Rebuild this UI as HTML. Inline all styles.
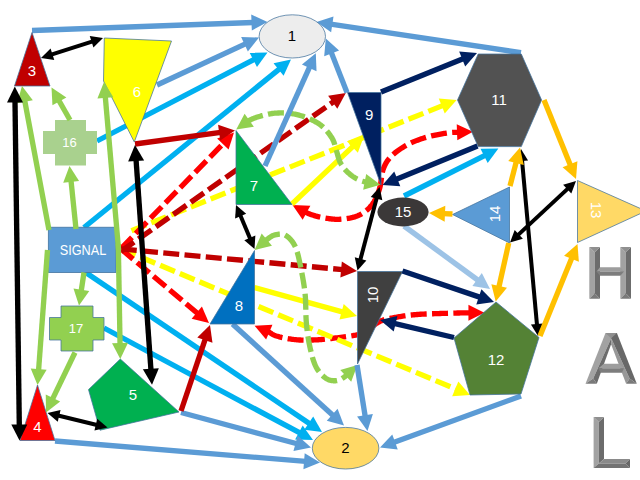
<!DOCTYPE html>
<html><head><meta charset="utf-8"><title>Signal diagram</title>
<style>html,body{margin:0;padding:0;background:#fff;overflow:hidden}svg{display:block;font-family:"Liberation Sans",sans-serif}</style>
</head><body>
<svg width="640" height="480" viewBox="0 0 640 480">
<rect width="640" height="480" fill="#fff"/>
<polyline points="305.11,212.02 305.90,212.41 306.93,212.88 307.90,213.30 308.84,213.68 309.77,214.04 310.69,214.38 311.61,214.71 312.52,215.02 313.43,215.31 314.34,215.59 315.24,215.86 316.15,216.11 317.07,216.35 317.98,216.58 318.91,216.80 319.84,217.01 320.78,217.21 321.73,217.41 322.70,217.60 323.68,217.79 324.66,217.97 325.66,218.14 326.66,218.31 327.68,218.47 328.69,218.62 329.72,218.76 330.74,218.89 331.77,219.00 332.81,219.10 333.84,219.18 334.88,219.25 335.91,219.29 336.94,219.32 337.97,219.32 339.00,219.30 340.03,219.26 341.09,219.20 342.15,219.12 343.23,219.03 344.31,218.91 345.39,218.78 346.47,218.63 347.55,218.47 348.62,218.29 349.67,218.09 350.71,217.88 351.72,217.65 352.71,217.41 353.68,217.15 354.61,216.88 355.50,216.60 356.36,216.30 357.20,215.98 358.02,215.65 358.81,215.30 359.58,214.94 360.33,214.56 361.07,214.17 361.78,213.76 362.48,213.33 363.16,212.90 363.83,212.44 364.49,211.98 365.13,211.50 365.76,211.01 366.39,210.51 367.00,210.00 367.60,209.47 368.19,208.93 368.76,208.38 369.32,207.81 369.86,207.23 370.39,206.63 370.90,206.02 371.41,205.40 371.90,204.77 372.37,204.12 372.84,203.46 373.29,202.79 373.74,202.11 374.17,201.42 374.59,200.71 375.00,200.00 375.40,199.28 375.78,198.55 376.15,197.82 376.50,197.08 376.84,196.33 377.17,195.56 377.49,194.79 377.79,194.00 378.09,193.20 378.38,192.37 378.66,191.53 378.94,190.67 379.21,189.79 379.48,188.88 379.74,187.96 380.00,187.00 380.24,186.00 380.46,184.96 380.65,183.86 380.83,182.73 380.99,181.58 381.15,180.40 381.30,179.20 381.45,178.00 381.61,176.80 381.78,175.60 381.96,174.42 382.17,173.27 382.40,172.14 382.66,171.04 382.96,170.00 383.30,169.00 383.66,168.05 384.03,167.13 384.42,166.23 384.81,165.37 385.22,164.52 385.65,163.70 386.10,162.89 386.58,162.10 387.07,161.32 387.60,160.55 388.16,159.79 388.75,159.03 389.38,158.28 390.04,157.52 390.75,156.76 391.50,156.00 392.30,155.23 393.14,154.45 394.04,153.68 394.97,152.91 395.94,152.13 396.94,151.37 397.98,150.61 399.04,149.86 400.12,149.12 401.22,148.39 402.34,147.68 403.46,146.98 404.60,146.30 405.73,145.64 406.87,145.01 408.00,144.40 409.14,143.81 410.30,143.24 411.48,142.69 412.68,142.15 413.89,141.63 415.12,141.13 416.36,140.64 417.60,140.17 418.85,139.71 420.11,139.27 421.36,138.84 422.62,138.43 423.87,138.02 425.12,137.64 426.37,137.26 427.60,136.90 428.85,136.55 430.13,136.22 431.43,135.90 432.75,135.60 434.08,135.31 435.42,135.03 436.75,134.77 438.07,134.53 439.37,134.29 440.64,134.07 441.88,133.86 443.08,133.67 444.22,133.48 445.32,133.31 446.34,133.15 447.30,133.00 448.17,132.87 448.95,132.76 449.65,132.67 450.28,132.60 450.86,132.54 451.39,132.50 451.90,132.47 452.38,132.44 452.86,132.43 453.34,132.41 453.84,132.40 454.37,132.39 454.93,132.38 455.55,132.36 456.24,132.34 457.00,132.30 457.86,132.26 458.62,132.22" fill="none" stroke="#FF0000" stroke-width="5.33" stroke-linejoin="round" stroke-dasharray="16 5.33" stroke-dashoffset="0"/>
<polygon points="292.50,205.10 310.36,205.79 302.67,219.80" fill="#FF0000" />
<polygon points="473.00,131.70 457.31,140.27 456.73,124.29" fill="#FF0000" />
<polyline points="267.81,331.40 268.27,331.65 268.84,331.98 269.38,332.30 269.89,332.63 270.39,332.96 270.89,333.28 271.39,333.61 271.90,333.93 272.43,334.24 272.99,334.55 273.58,334.86 274.22,335.15 274.92,335.44 275.67,335.73 276.50,336.00 277.40,336.27 278.36,336.54 279.37,336.81 280.44,337.07 281.54,337.34 282.68,337.59 283.85,337.84 285.05,338.09 286.26,338.32 287.49,338.55 288.71,338.76 289.94,338.96 291.16,339.14 292.36,339.31 293.54,339.47 294.70,339.60 295.84,339.72 296.98,339.82 298.13,339.90 299.27,339.97 300.42,340.03 301.57,340.07 302.72,340.10 303.86,340.12 305.01,340.13 306.16,340.13 307.30,340.12 308.44,340.11 309.59,340.09 310.73,340.06 311.86,340.03 313.00,340.00 314.12,339.96 315.21,339.92 316.28,339.87 317.34,339.81 318.39,339.75 319.43,339.67 320.48,339.59 321.54,339.51 322.61,339.41 323.70,339.31 324.82,339.20 325.97,339.07 327.15,338.94 328.38,338.81 329.66,338.66 331.00,338.50 332.42,338.33 333.94,338.16 335.55,337.97 337.22,337.78 338.95,337.58 340.71,337.37 342.49,337.15 344.27,336.92 346.04,336.68 347.78,336.44 349.47,336.19 351.11,335.92 352.66,335.66 354.12,335.38 355.48,335.09 356.70,334.80 357.80,334.50 358.79,334.19 359.68,333.88 360.49,333.55 361.23,333.22 361.90,332.88 362.53,332.54 363.12,332.18 363.69,331.82 364.25,331.44 364.80,331.06 365.37,330.67 365.96,330.27 366.59,329.85 367.27,329.43 368.00,329.00 368.77,328.54 369.56,328.06 370.35,327.54 371.15,327.01 371.96,326.46 372.78,325.89 373.60,325.33 374.44,324.76 375.28,324.19 376.12,323.64 376.97,323.10 377.83,322.58 378.69,322.08 379.56,321.62 380.43,321.19 381.30,320.80 382.17,320.45 383.04,320.13 383.90,319.84 384.76,319.58 385.63,319.33 386.49,319.11 387.37,318.90 388.26,318.71 389.15,318.52 390.07,318.35 391.00,318.18 391.95,318.01 392.92,317.84 393.92,317.67 394.94,317.49 396.00,317.30 397.07,317.11 398.16,316.91 399.25,316.72 400.36,316.53 401.48,316.35 402.62,316.16 403.78,315.98 404.96,315.81 406.17,315.63 407.41,315.47 408.68,315.31 409.99,315.15 411.33,315.00 412.71,314.86 414.13,314.73 415.60,314.60 417.13,314.48 418.72,314.37 420.38,314.27 422.08,314.18 423.83,314.09 425.62,314.01 427.43,313.94 429.26,313.87 431.11,313.80 432.96,313.74 434.80,313.68 436.64,313.62 438.45,313.57 440.24,313.51 441.99,313.46 443.70,313.40 445.40,313.34 447.11,313.29 448.84,313.24 450.57,313.19 452.30,313.15 454.02,313.10 455.73,313.06 457.42,313.02 459.09,312.99 460.72,312.95 462.32,312.92 463.87,312.89 465.37,312.87 466.81,312.84 468.19,312.82 469.50,312.80 470.01,312.79" fill="none" stroke="#FF0000" stroke-width="5.33" stroke-linejoin="round" stroke-dasharray="16 5.33" stroke-dashoffset="0"/>
<polygon points="254.60,325.70 272.45,324.70 266.11,339.38" fill="#FF0000" />
<polygon points="484.40,312.80 468.41,320.79 468.41,304.80" fill="#FF0000" />
<line x1="131.50" y1="230.80" x2="443.25" y2="105.37" stroke="#FFFF00" stroke-width="5.33" stroke-dasharray="16 5.33" stroke-dashoffset="0"/>
<polygon points="456.60,100.00 444.75,113.39 438.78,98.55" fill="#FFFF00" />
<line x1="120.80" y1="248.80" x2="456.73" y2="389.44" stroke="#FFFF00" stroke-width="5.33" stroke-dasharray="16 5.33" stroke-dashoffset="0"/>
<polygon points="470.00,395.00 452.16,396.20 458.34,381.45" fill="#FFFF00" />
<line x1="120.80" y1="248.80" x2="223.96" y2="142.81" stroke="#FF0000" stroke-width="5.33" stroke-dasharray="16 5.33" stroke-dashoffset="0"/>
<polygon points="234.00,132.50 228.58,149.53 217.12,138.38" fill="#FF0000" />
<line x1="120.80" y1="248.80" x2="197.99" y2="313.74" stroke="#FF0000" stroke-width="5.33" stroke-dasharray="16 5.33" stroke-dashoffset="0"/>
<polygon points="209.00,323.00 191.62,318.82 201.91,306.59" fill="#FF0000" />
<line x1="121.00" y1="251.30" x2="334.03" y2="101.38" stroke="#C00000" stroke-width="5.33" stroke-dasharray="16 5.33" stroke-dashoffset="0"/>
<polygon points="345.80,93.10 337.32,108.84 328.12,95.76" fill="#C00000" />
<line x1="120.80" y1="248.80" x2="342.67" y2="269.65" stroke="#C00000" stroke-width="5.33" stroke-dasharray="16 5.33" stroke-dashoffset="0"/>
<polygon points="357.00,271.00 340.33,277.46 341.83,261.54" fill="#C00000" />
<line x1="292.00" y1="204.00" x2="353.54" y2="145.88" stroke="#FFFF00" stroke-width="5.33"/>
<polygon points="364.00,136.00 357.86,152.79 346.89,141.17" fill="#FFFF00" />
<line x1="254.50" y1="287.50" x2="343.13" y2="312.14" stroke="#FFFF00" stroke-width="5.33"/>
<polygon points="357.00,316.00 339.45,319.42 343.74,304.01" fill="#FFFF00" />
<polyline points="247.92,121.17 248.13,121.04 249.08,120.49 250.00,120.00 250.90,119.56 251.81,119.14 252.74,118.74 253.67,118.36 254.60,118.00 255.55,117.66 256.49,117.34 257.44,117.03 258.38,116.74 259.32,116.46 260.26,116.19 261.19,115.93 262.11,115.69 263.02,115.45 263.92,115.22 264.80,115.00 265.66,114.79 266.51,114.59 267.33,114.40 268.15,114.22 268.95,114.05 269.74,113.90 270.54,113.76 271.33,113.62 272.12,113.51 272.92,113.40 273.72,113.30 274.54,113.22 275.37,113.15 276.23,113.09 277.10,113.04 278.00,113.00 278.92,112.97 279.87,112.95 280.83,112.94 281.80,112.95 282.79,112.96 283.79,112.98 284.81,113.01 285.82,113.06 286.85,113.12 287.88,113.20 288.91,113.29 289.93,113.40 290.96,113.52 291.98,113.66 292.99,113.82 294.00,114.00 295.01,114.20 296.02,114.41 297.04,114.65 298.07,114.90 299.10,115.17 300.13,115.45 301.16,115.75 302.19,116.06 303.21,116.39 304.22,116.73 305.22,117.08 306.21,117.45 307.19,117.82 308.14,118.20 309.08,118.60 310.00,119.00 310.90,119.41 311.79,119.83 312.67,120.26 313.54,120.70 314.40,121.14 315.25,121.60 316.08,122.08 316.91,122.56 317.72,123.06 318.51,123.58 319.30,124.10 320.07,124.65 320.82,125.21 321.56,125.79 322.29,126.38 323.00,127.00 323.70,127.64 324.39,128.31 325.08,129.00 325.75,129.72 326.41,130.45 327.06,131.21 327.69,131.97 328.31,132.75 328.91,133.53 329.49,134.32 330.05,135.12 330.59,135.91 331.11,136.69 331.60,137.47 332.06,138.24 332.50,139.00 332.90,139.75 333.26,140.50 333.59,141.25 333.89,142.00 334.16,142.75 334.40,143.50 334.63,144.25 334.84,145.00 335.05,145.75 335.24,146.50 335.43,147.25 335.63,148.00 335.83,148.75 336.04,149.50 336.26,150.25 336.50,151.00 336.74,151.75 336.97,152.51 337.19,153.28 337.41,154.05 337.62,154.82 337.82,155.59 338.03,156.36 338.25,157.12 338.47,157.89 338.71,158.65 338.95,159.40 339.22,160.14 339.50,160.87 339.81,161.60 340.14,162.30 340.50,163.00 340.88,163.68 341.28,164.36 341.70,165.03 342.12,165.70 342.57,166.36 343.03,167.01 343.51,167.65 344.00,168.28 344.51,168.91 345.03,169.52 345.57,170.13 346.12,170.72 346.70,171.31 347.28,171.88 347.88,172.45 348.50,173.00 349.13,173.54 349.75,174.08 350.39,174.61 351.03,175.13 351.69,175.64 352.36,176.14 353.05,176.63 353.76,177.11 354.49,177.57 355.25,178.03 356.03,178.48 356.85,178.91 357.70,179.33 358.59,179.73 359.53,180.12 360.50,180.50 361.56,180.86 362.75,181.22 364.03,181.57 365.39,181.90 366.27,182.10" fill="none" stroke="#92D050" stroke-width="5.33" stroke-linejoin="round" stroke-dasharray="16 5.33" stroke-dashoffset="0"/>
<polygon points="236.20,129.50 244.60,113.72 253.86,126.75" fill="#92D050" />
<polygon points="380.40,184.80 363.19,189.65 366.19,173.95" fill="#92D050" />
<polyline points="265.60,240.62 266.52,239.88 267.43,239.16 268.26,238.53 269.00,238.00 269.66,237.55 270.26,237.14 270.81,236.78 271.32,236.46 271.80,236.17 272.25,235.92 272.67,235.70 273.08,235.51 273.48,235.35 273.87,235.20 274.27,235.07 274.67,234.96 275.09,234.86 275.53,234.77 276.00,234.68 276.50,234.60 277.02,234.51 277.56,234.43 278.11,234.34 278.66,234.26 279.23,234.20 279.80,234.14 280.37,234.11 280.95,234.10 281.53,234.12 282.12,234.16 282.70,234.24 283.29,234.36 283.87,234.52 284.45,234.73 285.03,234.99 285.60,235.30 286.18,235.66 286.76,236.07 287.36,236.51 287.96,236.99 288.57,237.52 289.18,238.08 289.79,238.67 290.39,239.31 290.98,239.97 291.57,240.67 292.14,241.40 292.69,242.16 293.23,242.96 293.74,243.78 294.24,244.63 294.70,245.50 295.14,246.40 295.55,247.32 295.93,248.26 296.30,249.23 296.65,250.22 296.98,251.25 297.30,252.31 297.61,253.41 297.91,254.54 298.20,255.71 298.49,256.92 298.79,258.18 299.08,259.49 299.38,260.84 299.68,262.24 300.00,263.70 300.33,265.23 300.66,266.83 301.01,268.51 301.36,270.25 301.71,272.05 302.06,273.89 302.41,275.77 302.75,277.67 303.08,279.60 303.41,281.55 303.72,283.49 304.02,285.44 304.30,287.37 304.55,289.28 304.79,291.16 305.00,293.00 305.18,294.83 305.33,296.69 305.45,298.56 305.55,300.44 305.62,302.32 305.68,304.20 305.73,306.09 305.77,307.96 305.81,309.81 305.85,311.65 305.89,313.46 305.94,315.25 306.00,317.00 306.08,318.71 306.18,320.38 306.30,322.00 306.44,323.57 306.58,325.10 306.72,326.59 306.87,328.04 307.03,329.46 307.20,330.85 307.37,332.22 307.54,333.56 307.73,334.89 307.92,336.20 308.13,337.51 308.34,338.80 308.56,340.10 308.80,341.39 309.04,342.69 309.30,344.00 309.57,345.32 309.85,346.66 310.14,348.00 310.44,349.35 310.75,350.70 311.07,352.04 311.39,353.37 311.73,354.69 312.08,355.98 312.43,357.25 312.79,358.48 313.16,359.68 313.54,360.84 313.92,361.94 314.31,363.00 314.70,364.00 315.10,364.94 315.51,365.84 315.93,366.70 316.35,367.51 316.78,368.29 317.22,369.03 317.67,369.74 318.12,370.41 318.59,371.06 319.05,371.68 319.53,372.28 320.01,372.85 320.50,373.41 320.99,373.95 321.49,374.48 322.00,375.00 322.51,375.50 323.03,375.99 323.55,376.46 324.08,376.91 324.62,377.34 325.16,377.75 325.71,378.14 326.27,378.50 326.83,378.84 327.40,379.15 327.98,379.43 328.57,379.69 329.16,379.91 329.77,380.11 330.38,380.27 331.00,380.40 331.62,380.51 332.25,380.60 332.88,380.68 333.51,380.73 334.14,380.77 334.79,380.77 335.44,380.75 336.10,380.69 336.78,380.59 337.46,380.46 338.17,380.28 338.89,380.05 339.64,379.77 340.40,379.44 341.19,379.05 342.00,378.60 342.87,378.05 343.82,377.37 344.84,376.59 345.90,375.71 346.91,374.85" fill="none" stroke="#92D050" stroke-width="5.33" stroke-linejoin="round" stroke-dasharray="16 5.33" stroke-dashoffset="0"/>
<polygon points="254.60,249.90 261.66,233.48 271.98,245.69" fill="#92D050" />
<polygon points="357.40,365.00 351.21,381.77 340.27,370.11" fill="#92D050" />
<line x1="97.00" y1="141.00" x2="254.73" y2="59.13" stroke="#00B0F0" stroke-width="5.33"/>
<polygon points="267.50,52.50 256.99,66.96 249.62,52.77" fill="#00B0F0" />
<line x1="84.00" y1="227.50" x2="279.83" y2="68.57" stroke="#00B0F0" stroke-width="5.33"/>
<polygon points="291.00,59.50 283.62,75.78 273.55,63.37" fill="#00B0F0" />
<line x1="85.00" y1="272.00" x2="310.07" y2="423.95" stroke="#00B0F0" stroke-width="5.33"/>
<polygon points="322.00,432.00 304.27,429.68 313.22,416.43" fill="#00B0F0" />
<line x1="104.00" y1="328.00" x2="300.32" y2="433.20" stroke="#00B0F0" stroke-width="5.33"/>
<polygon points="313.00,440.00 295.13,439.49 302.68,425.40" fill="#00B0F0" />
<line x1="404.00" y1="196.00" x2="485.54" y2="155.06" stroke="#00B0F0" stroke-width="5.33"/>
<polygon points="498.40,148.60 487.70,162.92 480.52,148.63" fill="#00B0F0" />
<line x1="404.00" y1="226.00" x2="478.39" y2="280.50" stroke="#9DC3E6" stroke-width="5.33"/>
<polygon points="490.00,289.00 472.38,286.00 481.83,273.10" fill="#9DC3E6" />
<line x1="32.00" y1="30.50" x2="253.12" y2="22.52" stroke="#5B9BD5" stroke-width="5.33"/>
<polygon points="267.50,22.00 251.81,30.57 251.23,14.59" fill="#5B9BD5" />
<line x1="157.00" y1="85.00" x2="245.95" y2="43.58" stroke="#5B9BD5" stroke-width="5.33"/>
<polygon points="259.00,37.50 247.88,51.50 241.13,37.00" fill="#5B9BD5" />
<line x1="265.00" y1="166.00" x2="309.89" y2="66.42" stroke="#5B9BD5" stroke-width="5.33"/>
<polygon points="315.80,53.30 316.52,71.16 301.94,64.59" fill="#5B9BD5" />
<line x1="347.00" y1="92.50" x2="331.06" y2="51.90" stroke="#5B9BD5" stroke-width="5.33"/>
<polygon points="325.80,38.50 339.09,50.46 324.20,56.31" fill="#5B9BD5" />
<line x1="521.00" y1="52.70" x2="330.73" y2="24.14" stroke="#5B9BD5" stroke-width="5.33"/>
<polygon points="316.50,22.00 333.50,16.47 331.13,32.28" fill="#5B9BD5" />
<line x1="55.00" y1="441.00" x2="305.66" y2="461.34" stroke="#5B9BD5" stroke-width="5.33"/>
<polygon points="320.00,462.50 303.42,469.18 304.71,453.24" fill="#5B9BD5" />
<line x1="181.00" y1="412.50" x2="297.10" y2="443.76" stroke="#5B9BD5" stroke-width="5.33"/>
<polygon points="311.00,447.50 293.48,451.06 297.64,435.62" fill="#5B9BD5" />
<line x1="232.50" y1="324.00" x2="333.36" y2="415.81" stroke="#5B9BD5" stroke-width="5.33"/>
<polygon points="344.00,425.50 326.79,420.65 337.56,408.82" fill="#5B9BD5" />
<line x1="357.00" y1="365.00" x2="365.24" y2="416.79" stroke="#5B9BD5" stroke-width="5.33"/>
<polygon points="367.50,431.00 357.09,416.46 372.88,413.95" fill="#5B9BD5" />
<line x1="521.00" y1="396.00" x2="393.52" y2="442.56" stroke="#5B9BD5" stroke-width="5.33"/>
<polygon points="380.00,447.50 392.28,434.50 397.76,449.52" fill="#5B9BD5" />
<line x1="135.00" y1="144.00" x2="220.74" y2="132.43" stroke="#C00000" stroke-width="5.33"/>
<polygon points="235.00,130.50 220.22,140.56 218.08,124.72" fill="#C00000" />
<line x1="181.00" y1="411.00" x2="205.40" y2="338.64" stroke="#C00000" stroke-width="5.33"/>
<polygon points="210.00,325.00 212.47,342.71 197.31,337.60" fill="#C00000" />
<ellipse cx="292.3" cy="36.4" rx="33.2" ry="21.6" fill="#EDEDED" stroke="#41719C" stroke-width="0.75"/>
<ellipse cx="345.6" cy="448.2" rx="33.3" ry="20.8" fill="#FFD966" stroke="#41719C" stroke-width="0.75"/>
<polygon points="32.00,32.50 14.50,86.00 50.00,86.00" fill="#C00000" stroke="#41719C" stroke-width="0.75" stroke-linejoin="miter" />
<polygon points="37.50,385.00 20.00,440.50 55.00,440.50" fill="#FF0000" stroke="#41719C" stroke-width="0.75" stroke-linejoin="miter" />
<polygon points="120.30,359.00 88.50,389.60 100.00,430.20 179.00,412.00" fill="#00B050" stroke="#41719C" stroke-width="0.75" stroke-linejoin="miter" />
<polygon points="104.30,38.00 171.50,41.00 134.30,142.00 103.50,81.00" fill="#FFFF00" stroke="#41719C" stroke-width="0.75" stroke-linejoin="miter" />
<polygon points="236.00,130.50 236.00,204.50 292.00,204.50" fill="#00B050" stroke="#41719C" stroke-width="0.75" stroke-linejoin="miter" />
<polygon points="254.50,250.50 254.50,324.00 210.00,324.00" fill="#0070C0" stroke="#41719C" stroke-width="0.75" stroke-linejoin="miter" />
<polygon points="347.50,92.50 381.00,92.50 381.00,185.00" fill="#002060" stroke="#41719C" stroke-width="0.75" stroke-linejoin="miter" />
<polygon points="357.50,271.50 402.50,271.50 357.50,364.00" fill="#404040" stroke="#41719C" stroke-width="0.75" stroke-linejoin="miter" />
<polygon points="478.20,54.00 521.30,54.00 541.60,100.00 521.30,146.60 478.20,146.60 457.50,100.00" fill="#525252" stroke="#41719C" stroke-width="0.75" stroke-linejoin="miter" />
<polygon points="496.00,302.00 539.00,337.50 521.00,394.00 470.00,395.00 454.00,338.00" fill="#548235" stroke="#41719C" stroke-width="0.75" stroke-linejoin="miter" />
<polygon points="577.50,180.50 577.50,242.50 646.00,211.00" fill="#FFD966" stroke="#41719C" stroke-width="0.75" stroke-linejoin="miter" />
<polygon points="509.50,187.00 509.50,243.00 452.50,214.50" fill="#5B9BD5" stroke="#41719C" stroke-width="0.75" stroke-linejoin="miter" />
<ellipse cx="403" cy="212" rx="25.6" ry="14.4" fill="#3B3838"/>
<polygon points="55.00,120.00 86.00,120.00 86.00,131.00 97.00,131.00 97.00,154.00 86.00,154.00 86.00,165.50 55.00,165.50 55.00,154.00 43.00,154.00 43.00,131.00 55.00,131.00" fill="#A9D18E" />
<polygon points="61.00,306.00 93.00,306.00 93.00,317.50 104.00,317.50 104.00,340.00 93.00,340.00 93.00,351.00 61.00,351.00 61.00,340.00 49.50,340.00 49.50,317.50 61.00,317.50" fill="#92D050" stroke="#41719C" stroke-width="0.75" stroke-linejoin="miter" />
<rect x="48.3" y="227.2" width="67.7" height="45.4" fill="#5B9BD5" stroke="#41719C" stroke-width="0.75"/>
<line x1="49.00" y1="230.00" x2="24.65" y2="100.14" stroke="#92D050" stroke-width="5.33"/>
<polygon points="22.00,86.00 32.80,100.24 17.09,103.19" fill="#92D050" />
<line x1="76.00" y1="229.00" x2="70.98" y2="180.32" stroke="#92D050" stroke-width="5.33"/>
<polygon points="69.50,166.00 79.09,181.09 63.19,182.73" fill="#92D050" />
<line x1="70.00" y1="120.00" x2="58.62" y2="100.01" stroke="#92D050" stroke-width="5.33"/>
<polygon points="51.50,87.50 66.36,97.44 52.46,105.35" fill="#92D050" />
<line x1="118.60" y1="250.00" x2="105.25" y2="96.34" stroke="#92D050" stroke-width="5.33"/>
<polygon points="104.00,82.00 113.35,97.24 97.42,98.62" fill="#92D050" />
<line x1="118.30" y1="244.00" x2="120.05" y2="344.61" stroke="#92D050" stroke-width="5.33"/>
<polygon points="120.30,359.00 112.03,343.15 128.02,342.87" fill="#92D050" />
<line x1="47.50" y1="250.00" x2="38.56" y2="370.65" stroke="#92D050" stroke-width="5.33"/>
<polygon points="37.50,385.00 30.71,368.46 46.65,369.64" fill="#92D050" />
<line x1="84.00" y1="272.50" x2="81.16" y2="291.27" stroke="#92D050" stroke-width="5.33"/>
<polygon points="79.00,305.50 73.49,288.49 89.30,290.89" fill="#92D050" />
<line x1="75.00" y1="352.50" x2="52.26" y2="399.54" stroke="#92D050" stroke-width="5.33"/>
<polygon points="46.00,412.50 45.76,394.62 60.16,401.58" fill="#92D050" />
<line x1="381.00" y1="92.00" x2="463.67" y2="58.42" stroke="#002060" stroke-width="5.33"/>
<polygon points="477.00,53.00 465.19,66.43 459.18,51.61" fill="#002060" />
<line x1="477.50" y1="146.00" x2="395.81" y2="179.53" stroke="#002060" stroke-width="5.33"/>
<polygon points="382.50,185.00 394.26,171.53 400.33,186.32" fill="#002060" />
<line x1="402.50" y1="271.00" x2="480.37" y2="297.38" stroke="#002060" stroke-width="5.33"/>
<polygon points="494.00,302.00 476.29,304.44 481.42,289.30" fill="#002060" />
<line x1="454.00" y1="337.50" x2="394.00" y2="323.31" stroke="#002060" stroke-width="5.33"/>
<polygon points="380.00,320.00 397.40,315.90 393.72,331.46" fill="#002060" />
<line x1="51.28" y1="54.68" x2="92.72" y2="41.32" stroke="#000000" stroke-width="4.00"/>
<polygon points="103.00,38.00 93.42,47.39 89.74,35.97" fill="#000000" />
<polygon points="41.00,58.00 50.58,48.61 54.26,60.03" fill="#000000" />
<line x1="14.99" y1="100.89" x2="19.31" y2="426.11" stroke="#000000" stroke-width="5.33"/>
<polygon points="19.50,440.50 11.29,424.62 27.28,424.41" fill="#000000" />
<polygon points="14.80,86.50 23.01,102.38 7.02,102.59" fill="#000000" />
<line x1="136.02" y1="159.35" x2="150.98" y2="370.35" stroke="#000000" stroke-width="5.33"/>
<polygon points="152.00,384.70 142.89,369.32 158.84,368.18" fill="#000000" />
<polygon points="135.00,145.00 144.11,160.38 128.16,161.52" fill="#000000" />
<line x1="58.00" y1="415.54" x2="97.00" y2="424.96" stroke="#000000" stroke-width="4.00"/>
<polygon points="107.50,427.50 94.43,430.51 97.25,418.85" fill="#000000" />
<polygon points="47.50,413.00 60.57,409.99 57.75,421.65" fill="#000000" />
<line x1="240.19" y1="214.96" x2="250.31" y2="239.04" stroke="#000000" stroke-width="4.00"/>
<polygon points="254.50,249.00 244.32,240.26 255.38,235.61" fill="#000000" />
<polygon points="236.00,205.00 246.18,213.74 235.12,218.39" fill="#000000" />
<line x1="376.84" y1="197.44" x2="360.26" y2="260.06" stroke="#000000" stroke-width="4.00"/>
<polygon points="357.50,270.50 354.77,257.36 366.37,260.43" fill="#000000" />
<polygon points="379.60,187.00 382.33,200.14 370.73,197.07" fill="#000000" />
<line x1="521.98" y1="159.76" x2="537.02" y2="325.24" stroke="#000000" stroke-width="4.00"/>
<polygon points="538.00,336.00 530.94,324.59 542.89,323.51" fill="#000000" />
<polygon points="521.00,149.00 528.06,160.41 516.11,161.49" fill="#000000" />
<line x1="568.10" y1="188.36" x2="517.90" y2="235.14" stroke="#000000" stroke-width="4.00"/>
<polygon points="510.00,242.50 514.69,229.93 522.87,238.71" fill="#000000" />
<polygon points="576.00,181.00 571.31,193.57 563.13,184.79" fill="#000000" />
<line x1="544.00" y1="100.00" x2="570.60" y2="165.66" stroke="#FFC000" stroke-width="5.33"/>
<polygon points="576.00,179.00 562.59,167.18 577.41,161.18" fill="#FFC000" />
<line x1="510.00" y1="186.00" x2="516.38" y2="161.43" stroke="#FFC000" stroke-width="5.33"/>
<polygon points="520.00,147.50 523.72,164.99 508.24,160.97" fill="#FFC000" />
<line x1="452.50" y1="214.00" x2="443.38" y2="213.61" stroke="#FFC000" stroke-width="5.33"/>
<polygon points="429.00,213.00 445.32,205.69 444.64,221.67" fill="#FFC000" />
<line x1="508.75" y1="243.00" x2="498.83" y2="287.45" stroke="#FFC000" stroke-width="5.33"/>
<polygon points="495.70,301.50 491.38,284.15 506.98,287.63" fill="#FFC000" />
<line x1="540.00" y1="336.00" x2="572.07" y2="257.33" stroke="#FFC000" stroke-width="5.33"/>
<polygon points="577.50,244.00 578.87,261.82 564.06,255.79" fill="#FFC000" />
<text x="292" y="35.8" fill="#000" font-size="15" font-weight="normal" text-anchor="middle" dominant-baseline="central" >1</text>
<text x="345.5" y="447.3" fill="#000" font-size="15" font-weight="normal" text-anchor="middle" dominant-baseline="central" >2</text>
<text x="32" y="70.6" fill="#fff" font-size="15" font-weight="normal" text-anchor="middle" dominant-baseline="central" >3</text>
<text x="37.5" y="426.8" fill="#fff" font-size="15" font-weight="normal" text-anchor="middle" dominant-baseline="central" >4</text>
<text x="133" y="394.3" fill="#fff" font-size="15" font-weight="normal" text-anchor="middle" dominant-baseline="central" >5</text>
<text x="137" y="91.3" fill="#fff" font-size="15" font-weight="normal" text-anchor="middle" dominant-baseline="central" >6</text>
<text x="254" y="185.3" fill="#fff" font-size="15" font-weight="normal" text-anchor="middle" dominant-baseline="central" >7</text>
<text x="239" y="305.3" fill="#fff" font-size="15" font-weight="normal" text-anchor="middle" dominant-baseline="central" >8</text>
<text x="369.2" y="114.8" fill="#fff" font-size="15" font-weight="normal" text-anchor="middle" dominant-baseline="central" >9</text>
<text x="372.5" y="295" fill="#fff" font-size="15" font-weight="normal" text-anchor="middle" dominant-baseline="central" transform="rotate(-90 372.5 295)" >10</text>
<text x="499" y="99.3" fill="#fff" font-size="15" font-weight="normal" text-anchor="middle" dominant-baseline="central" >11</text>
<text x="496" y="359.8" fill="#fff" font-size="15" font-weight="normal" text-anchor="middle" dominant-baseline="central" >12</text>
<text x="596" y="210" fill="#fff" font-size="15" font-weight="normal" text-anchor="middle" dominant-baseline="central" transform="rotate(90 596 210)" >13</text>
<text x="494" y="214" fill="#fff" font-size="15" font-weight="normal" text-anchor="middle" dominant-baseline="central" transform="rotate(-90 494 214)" >14</text>
<text x="403" y="211.3" fill="#fff" font-size="15" font-weight="normal" text-anchor="middle" dominant-baseline="central" >15</text>
<text x="69.5" y="142.3" fill="#fff" font-size="13" font-weight="normal" text-anchor="middle" dominant-baseline="central" >16</text>
<text x="76" y="328.3" fill="#fff" font-size="13" font-weight="normal" text-anchor="middle" dominant-baseline="central" >17</text>
<text x="83" y="249.5" fill="#fff" font-size="14.5" font-weight="normal" text-anchor="middle" dominant-baseline="central" textLength="46.6" lengthAdjust="spacingAndGlyphs">SIGNAL</text>
<polygon points="589.30,247.00 594.65,252.35 594.65,293.35 589.30,298.70" fill="#a2a2a2" />
<polygon points="600.00,247.00 594.65,252.35 594.65,293.35 600.00,298.70" fill="#6c6c6c" />
<polygon points="589.30,247.00 600.00,247.00 594.65,252.35" fill="#8f8f8f" />
<polygon points="589.30,298.70 600.00,298.70 594.65,293.35" fill="#7a7a7a" />
<polygon points="620.30,247.00 625.65,252.35 625.65,293.35 620.30,298.70" fill="#a2a2a2" />
<polygon points="631.00,247.00 625.65,252.35 625.65,293.35 631.00,298.70" fill="#6c6c6c" />
<polygon points="620.30,247.00 631.00,247.00 625.65,252.35" fill="#8f8f8f" />
<polygon points="620.30,298.70 631.00,298.70 625.65,293.35" fill="#7a7a7a" />
<polygon points="596.50,271.50 600.00,267.30 620.30,267.30 624.00,271.50" fill="#9d9d9d" />
<polygon points="596.50,271.50 600.00,275.70 620.30,275.70 624.00,271.50" fill="#7d7d7d" />
<polygon points="585.50,383.80 605.50,332.90 611.20,332.90 611.20,338.30 593.20,378.60" fill="#a2a2a2" />
<polygon points="596.80,383.80 593.20,378.60 611.20,338.30 611.10,344.20" fill="#6c6c6c" />
<polygon points="585.50,383.80 596.80,383.80 593.20,378.60" fill="#7a7a7a" />
<polygon points="626.10,383.80 629.60,378.60 611.20,338.30 611.10,344.20" fill="#989898" />
<polygon points="636.80,383.80 616.90,332.90 611.20,332.90 611.20,338.30 629.60,378.60" fill="#686868" />
<polygon points="626.10,383.80 636.80,383.80 629.60,378.60" fill="#7a7a7a" />
<polygon points="605.50,332.90 616.90,332.90 611.20,338.30" fill="#8f8f8f" />
<polygon points="598.50,368.30 603.90,363.80 618.50,363.80 624.00,368.30" fill="#9d9d9d" />
<polygon points="598.50,368.30 600.70,372.80 621.90,372.80 624.00,368.30" fill="#7d7d7d" />
<polygon points="593.60,416.90 598.80,422.10 598.80,463.50 593.60,468.00" fill="#a2a2a2" />
<polygon points="604.00,416.90 598.80,422.10 598.80,463.50 604.00,459.00" fill="#6c6c6c" />
<polygon points="593.60,416.90 604.00,416.90 598.80,422.10" fill="#8f8f8f" />
<polygon points="604.00,459.00 598.80,463.50 625.50,463.50 630.00,459.00" fill="#8a8a8a" />
<polygon points="593.60,468.00 598.80,463.50 625.50,463.50 630.00,468.00" fill="#737373" />
<polygon points="630.00,459.00 630.00,468.00 625.50,463.50" fill="#666666" />
</svg>
</body></html>
